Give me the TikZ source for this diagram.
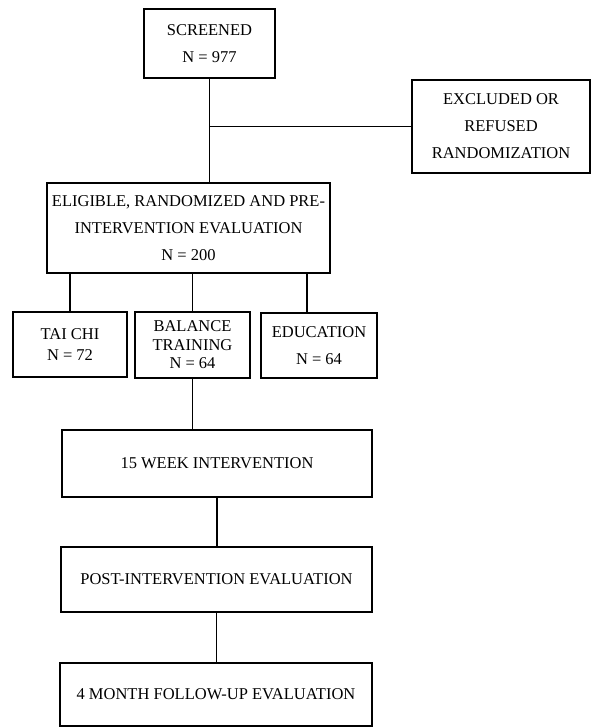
\documentclass[tikz,border=0pt]{standalone}
\usepackage{fontspec}
\setmainfont{Liberation Serif}
\begin{document}
\begin{tikzpicture}[x=1pt, y=-1pt, line width=1.2pt,
		box/.style={draw=black, text=black, shape=rectangle, align=center, inner sep=2pt, font=\fontsize{16.5}{27}\selectfont}]
	\useasboundingbox (0,0) rectangle (591,727);

	\node[box, minimum width=131pt, minimum height=69pt] (b_screened) at (209.5,43.5) {SCREENED\\N = 977};
	\node[box, minimum width=178pt, minimum height=93pt] (b_excluded) at (501,126.5) {EXCLUDED OR\\REFUSED\\RANDOMIZATION};
	\node[box, minimum width=283pt, minimum height=90pt] (b_eligible) at (188.5,228) {ELIGIBLE, RANDOMIZED AND PRE-\\INTERVENTION EVALUATION\\N = 200};

	\node[box, minimum width=114pt, minimum height=65pt, font=\fontsize{16.5}{21}\selectfont] (b_taichi) at (70,344.5) {TAI CHI\\N = 72};
	\node[box, minimum width=115pt, minimum height=66pt, font=\fontsize{16.5}{18.5}\selectfont] (b_balance) at (192.5,345) {BALANCE\\TRAINING\\N = 64};
	\node[box, minimum width=116pt, minimum height=65pt] (b_education) at (319,345.5) {EDUCATION\\N = 64};

	\node[box, minimum width=310pt, minimum height=67pt] (b_interv) at (217,463.5) {15 WEEK INTERVENTION};
	\node[box, minimum width=311pt, minimum height=65pt] (b_post) at (216.5,579.5) {POST-INTERVENTION EVALUATION};
	\node[box, minimum width=312pt, minimum height=63pt] (b_follow) at (216,694.5) {4 MONTH FOLLOW-UP EVALUATION};

	\coordinate (c_branch) at (b_screened.south |- b_excluded.west);

	\draw (b_screened.south) -- (b_screened.south |- b_eligible.north);
	\draw (c_branch) -- (b_excluded.west);
	\draw (b_taichi.north) -- (b_taichi.north |- b_eligible.south);
	\draw (b_balance.north) -- (b_balance.north |- b_eligible.south);
	\draw ([xshift=-12pt]b_education.north) -- ([xshift=-12pt]b_education.north |- b_eligible.south);
	\draw (b_balance.south) -- (b_balance.south |- b_interv.north);
	\draw (b_interv.south) -- (b_interv.south |- b_post.north);
	\draw (b_post.south) -- (b_post.south |- b_follow.north);
\end{tikzpicture}
\end{document}
